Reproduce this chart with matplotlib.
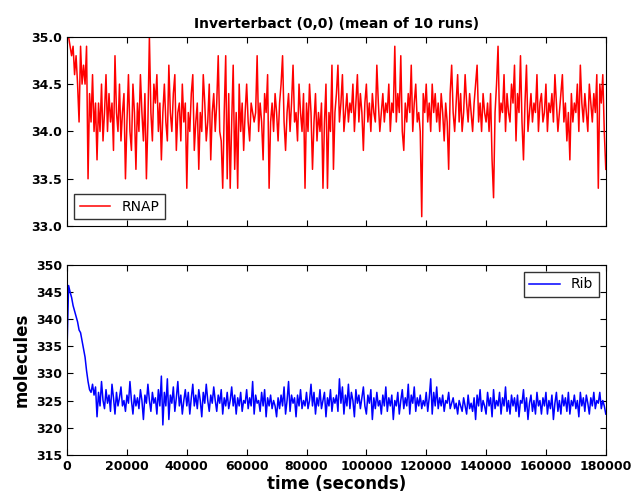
import numpy as np
import matplotlib
matplotlib.use("Agg")
import matplotlib.pyplot as plt

# sample times (seconds), one reading every 500 s
time = np.arange(0, 180001, 500)

# RNAP, mean of 10 runs
rnap = [
    35.0, 35.0, 34.9, 34.8, 34.9, 34.6, 34.8, 34.5, 34.1, 34.9, 34.5, 34.7, 34.5, 34.9, 33.5, 34.4, 34.1, 34.6, 34.0, 34.3,
    33.7, 34.3, 34.0, 34.5, 33.9, 34.2, 34.6, 34.0, 34.4, 34.1, 34.3, 33.8, 34.8, 34.2, 34.0, 34.5, 33.9, 34.2, 34.4, 33.5,
    34.1, 34.6, 34.0, 33.8, 34.5, 34.2, 33.6, 34.3, 34.0, 34.6, 34.2, 33.9, 34.4, 33.5, 34.1, 35.0, 34.2, 33.9, 34.5, 34.3,
    34.6, 34.0, 34.3, 33.7, 34.2, 34.5, 34.1, 33.9, 34.7, 34.2, 34.0, 34.4, 34.6, 33.8, 34.2, 34.3, 33.9, 34.5, 34.1, 34.3,
    33.4, 34.2, 34.0, 34.4, 34.6, 33.8, 34.1, 34.3, 33.6, 34.2, 34.0, 34.6, 34.3, 33.9, 34.1, 34.5, 33.7, 34.2, 34.4, 34.0,
    34.3, 34.8, 34.0, 33.9, 33.4, 34.2, 34.8, 33.5, 34.4, 33.4, 34.1, 34.7, 33.6, 34.2, 33.4, 34.5, 34.0, 34.3, 33.8, 34.2,
    34.5, 34.1, 33.9, 34.3, 34.2, 34.1, 34.2, 34.8, 34.0, 34.3, 34.1, 33.7, 34.4, 34.2, 34.6, 33.4, 34.1, 34.3, 34.0, 34.4,
    34.2, 33.9, 34.3, 34.5, 34.8, 34.1, 33.8, 34.2, 34.4, 34.0, 34.3, 34.7, 34.1, 34.2, 33.9, 34.5, 34.2, 34.0, 34.4, 33.4,
    34.3, 34.0, 34.5, 34.2, 33.6, 34.1, 34.4, 33.9, 34.2, 34.0, 34.3, 33.4, 34.1, 34.5, 33.4, 34.2, 34.0, 34.7, 33.6, 34.2,
    34.4, 34.7, 34.1, 34.3, 34.6, 34.0, 34.2, 34.4, 34.1, 34.3, 34.2, 34.5, 34.0, 34.3, 34.6, 34.1, 34.4, 34.2, 33.8, 34.3,
    34.5, 34.1, 34.3, 34.0, 34.4, 34.2, 34.1, 34.7, 34.3, 34.0, 34.2, 34.4, 34.1, 34.3, 34.2, 34.5, 34.0, 34.3, 34.2, 34.9,
    34.1, 34.4, 34.2, 34.8, 34.0, 33.8, 34.3, 34.1, 34.4, 34.2, 34.7, 34.0, 34.3, 34.5, 34.1, 34.2, 34.0, 33.1, 34.4, 34.2,
    34.5, 34.1, 34.3, 34.0, 34.5, 34.2, 34.4, 34.1, 34.3, 34.0, 34.4, 34.2, 33.9, 34.3, 34.1, 33.6, 34.4, 34.7, 34.2, 34.0,
    34.3, 34.6, 34.1, 34.4, 34.0, 34.2, 34.6, 34.3, 34.1, 34.4, 34.2, 34.0, 34.3, 34.5, 34.7, 34.1, 34.3, 34.0, 34.4, 34.2,
    34.1, 34.3, 34.0, 34.4, 33.7, 33.3, 34.2, 34.5, 34.9, 34.1, 34.3, 34.2, 34.6, 34.0, 34.4, 34.2, 34.1, 34.5, 34.3, 34.7,
    33.9, 34.4, 34.2, 34.8, 34.1, 33.7, 34.3, 34.7, 34.0, 34.2, 34.4, 34.1, 34.3, 34.2, 34.6, 34.0, 34.3, 34.4, 34.1, 34.2,
    34.5, 34.0, 34.3, 34.2, 34.4, 34.1, 34.6, 34.3, 34.0, 34.2, 34.4, 34.6, 34.1, 34.3, 33.9, 34.2, 33.7, 34.4, 34.1, 34.3,
    34.2, 34.5, 34.0, 34.7, 34.3, 34.1, 34.4, 34.2, 34.0, 34.5, 34.3, 34.1, 34.4, 34.2, 34.6, 33.4, 34.5, 34.3, 34.6, 34.0,
    33.6,
]

# ribosomes, mean of 10 runs
rib = [
    335.0, 346.2, 345.0, 344.0, 342.5, 341.5, 340.5, 339.5, 338.0, 337.5, 336.0, 334.5, 333.0, 330.5, 328.5, 327.0, 326.5, 328.0, 326.0, 327.5,
    322.0, 326.5, 324.0, 328.5, 325.0, 323.5, 327.0, 324.5, 326.0, 323.0, 328.0, 325.5, 322.5, 326.5, 324.0, 325.5, 327.5, 324.0, 325.0, 323.0,
    326.0, 324.5, 328.5, 325.0, 322.5, 326.0, 324.0, 325.5, 323.5, 327.0, 325.0, 321.5, 326.0, 324.5, 328.0, 325.0, 323.0, 326.5, 324.5, 325.5,
    322.5, 327.0, 324.0, 329.5, 320.5, 326.5, 324.0, 329.0, 321.5, 326.0, 324.5, 327.5, 323.0, 325.5, 328.5, 324.0, 326.0, 322.5, 325.0, 327.0,
    324.0, 326.5, 322.5, 325.5, 328.0, 324.0, 326.0, 323.5, 327.0, 325.0, 322.0, 326.5, 324.5, 328.0, 325.0, 323.0, 326.0, 324.5, 327.5, 325.0,
    323.0, 326.0, 324.5, 327.0, 322.5, 325.5, 324.0, 326.5, 323.5, 325.0, 327.5, 324.0, 326.0, 322.5, 325.5, 324.0, 326.5, 323.0, 325.0, 324.5,
    327.0, 323.5, 325.5, 324.0, 328.5, 322.5, 326.0, 324.5, 325.0, 323.0, 326.5, 324.0, 327.0, 322.0, 325.5, 324.0, 326.0, 323.5, 325.0, 324.0,
    322.0, 325.5, 323.5, 326.0, 324.0, 327.5, 322.5, 325.0, 328.5, 323.0, 326.0, 324.5, 325.5, 322.0, 326.0, 324.0, 327.0, 323.5, 325.0, 324.0,
    326.5, 323.5, 325.0, 328.0, 324.0, 326.5, 322.5, 325.5, 324.0, 327.0, 323.5, 325.0, 326.5, 322.0, 325.5, 324.0, 327.0, 323.0, 325.5, 324.5,
    326.0, 323.0, 329.0, 324.5, 327.5, 322.5, 326.0, 324.0, 328.0, 323.5, 326.5, 325.0, 322.0, 327.0, 324.5, 326.0, 323.5, 325.5, 327.5, 324.0,
    322.5, 326.0, 324.5, 327.0, 321.5, 325.5, 323.5, 326.5, 324.0, 325.0, 322.5, 326.0, 324.0, 327.5, 323.0, 325.5, 324.0, 326.0, 321.5, 325.0,
    324.0, 326.5, 322.5, 325.0, 327.0, 323.5, 325.5, 324.0, 328.0, 322.5, 326.0, 324.5, 327.5, 323.0, 325.5, 324.0, 326.0, 323.5, 325.0, 324.0,
    326.5, 323.0, 325.5, 329.0, 322.5, 326.5, 324.0, 327.5, 323.5, 325.5, 324.0, 326.0, 323.0, 325.0, 324.5, 326.5, 323.5, 324.5, 325.5, 323.5,
    324.5, 322.5, 325.0, 324.0, 323.0, 325.5, 324.0, 322.5, 326.0, 323.5, 324.5, 323.0, 325.5, 321.5, 326.0, 324.0, 327.0, 323.0, 325.0, 324.0,
    322.5, 326.5, 324.0, 325.5, 322.0, 327.0, 323.5, 325.0, 324.0, 326.5, 322.5, 325.5, 324.0, 327.5, 323.0, 325.0, 322.5, 326.0, 324.0, 325.5,
    323.0, 326.0, 322.0, 325.0, 324.5, 327.0, 323.0, 325.5, 321.5, 324.5, 326.0, 323.0, 325.0, 322.5, 326.5, 324.0, 325.0, 322.5, 325.5, 324.0,
    326.5, 322.5, 325.0, 323.5, 326.0, 321.5, 324.5, 326.5, 323.0, 325.0, 322.5, 326.0, 324.0, 325.5, 323.0, 326.5, 322.5, 325.0, 324.0, 326.0,
    323.5, 325.0, 322.0, 326.5, 324.0, 325.5, 323.0, 326.0, 324.5, 322.5, 325.5, 324.0, 326.5, 323.5, 325.0, 324.5, 326.5, 323.5, 325.0, 324.0,
    322.5,
]

xticks = np.arange(0, 180001, 20000)

plt.rcParams.update({
    "font.family": "DejaVu Sans",
    "font.weight": "bold",
    "xtick.direction": "in",
    "ytick.direction": "in",
    "xtick.top": True,
    "ytick.right": True,
    "xtick.major.size": 4,
    "ytick.major.size": 4,
    "xtick.labelsize": 9,
    "ytick.labelsize": 9,
    "axes.linewidth": 0.8,
})

fig = plt.figure(figsize=(6.33, 4.97), dpi=100)
ax1 = fig.add_axes([0.106, 0.545, 0.851, 0.381])
ax2 = fig.add_axes([0.106, 0.085, 0.851, 0.382])

ax1.plot(time, rnap, color="red", lw=1.1, label="RNAP")
ax1.set_xlim(0, 180000)
ax1.set_ylim(33.0, 35.0)
ax1.set_yticks([33.0, 33.5, 34.0, 34.5, 35.0])
ax1.set_xticks(xticks)
ax1.set_xticklabels([])
ax1.set_title("Inverterbact (0,0) (mean of 10 runs)", fontsize=10, fontweight="bold")
ax1.legend(loc="lower left", fancybox=False, edgecolor="black", handlelength=2.2,
           prop={"weight": "normal", "size": 10})

ax2.plot(time, rib, color="blue", lw=1.1, label="Rib")
ax2.set_xlim(0, 180000)
ax2.set_ylim(315, 350)
ax2.set_yticks(np.arange(315, 351, 5))
ax2.set_xticks(xticks)
ax2.set_xlabel("time (seconds)", fontsize=12, fontweight="bold", labelpad=2)
ax2.set_ylabel("molecules", fontsize=12, fontweight="bold")
ax2.legend(loc="upper right", fancybox=False, edgecolor="black", handlelength=2.2,
           prop={"weight": "normal", "size": 10})

fig.savefig("out.png", dpi=100)
